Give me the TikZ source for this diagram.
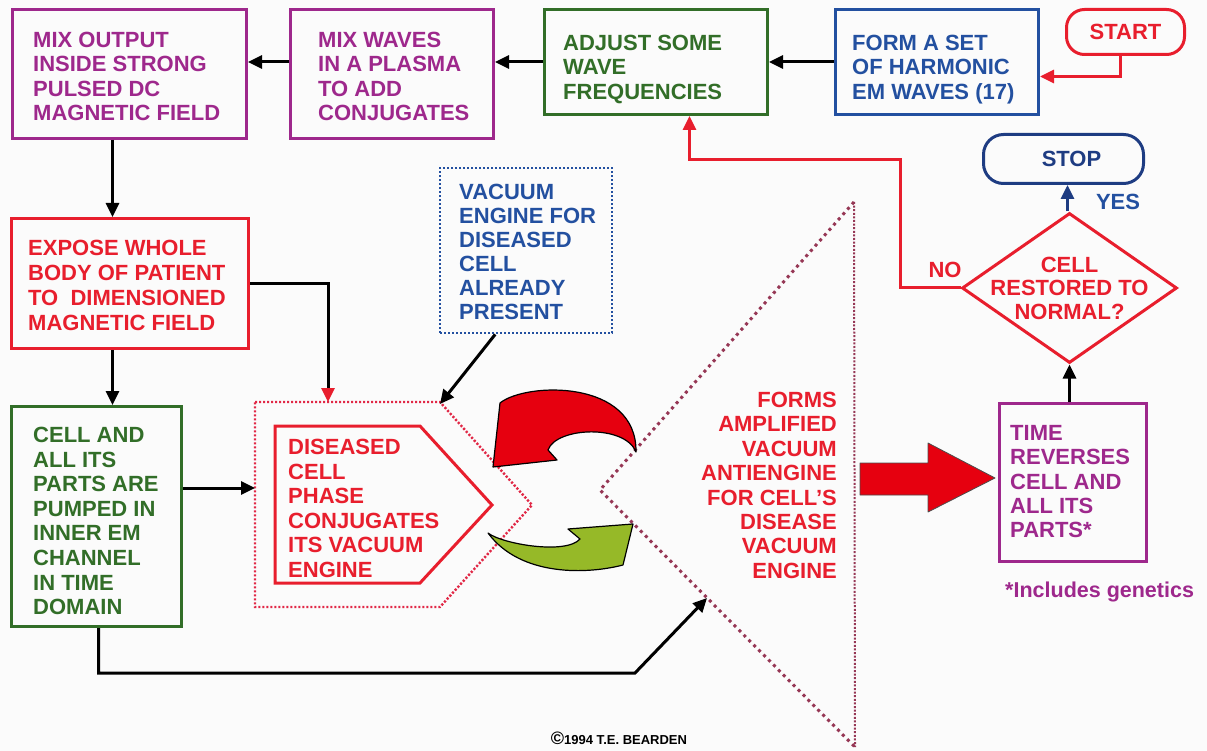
\documentclass[tikz,border=0pt]{standalone}
\usepackage{fontspec}
\setmainfont{Liberation Sans}
\usetikzlibrary{arrows.meta,shapes.geometric}
\definecolor{cpurple}{RGB}{158,40,140}
\definecolor{cgreen}{RGB}{50,110,40}
\definecolor{cblue}{RGB}{35,80,160}
\definecolor{cdblue}{RGB}{30,60,130}
\definecolor{cred}{RGB}{232,30,45}
\definecolor{cdot}{RGB}{150,55,85}
\definecolor{cpdot}{RGB}{225,40,70}
\definecolor{cfill}{RGB}{230,0,15}
\definecolor{colive}{RGB}{150,185,40}
\definecolor{bg}{RGB}{251,251,251}
\begin{document}
\begin{tikzpicture}[x=1pt,y=-1pt,
  box/.style={draw, line width=3pt, inner sep=0pt, anchor=north west},
  lbl/.style={inner sep=0pt, align=left, anchor=north west, font=\bfseries\fontsize{22}{24.4}\selectfont},
  ctr/.style={inner sep=0pt, align=center, font=\bfseries\fontsize{22}{23.5}\selectfont},
  arr/.style={line width=3pt, -{Triangle[length=14pt,width=13pt]}},
  redarr/.style={arr, draw=cred, -{Triangle[length=14pt,width=13pt,color=cred]}},
  mixarr/.style={arr, -{Triangle[length=14pt,width=13pt,color=cred]}},
  bluearr/.style={arr, draw=cdblue},
  dotline/.style={line width=2.4pt, dash pattern=on 2.2pt off 1.8pt},
  bigdot/.style={line width=3pt, dash pattern=on 3pt off 4pt, line cap=butt},
  curvy/.style={draw=black, line width=1.2pt, line join=round}]
\fill[bg] (0,0) rectangle (1207,751);
\useasboundingbox (0,0) rectangle (1207,751);

% top row boxes
\node[box, cpurple, minimum width=234pt, minimum height=129pt] (b1) at (11,8) {};
\node[box, cpurple, minimum width=203pt, minimum height=129pt] (b2) at (289,8) {};
\node[box, cgreen, minimum width=223pt, minimum height=105pt] (b3) at (543,8) {};
\node[box, cblue, minimum width=203pt, minimum height=105pt] (b4) at (834,8) {};
\node[box, draw=cred, text=cred, rounded corners=18pt, minimum width=118pt, minimum height=45pt, font=\bfseries\fontsize{22}{24}\selectfont] (st) at (1065,8) {START};
\node[box, draw=cdblue, text=cdblue, rounded corners=20pt, minimum width=160pt, minimum height=49pt, font=\bfseries\fontsize{22}{24}\selectfont] (stop) at (982,133) {\hspace*{16pt}STOP};

\node[lbl, text=cpurple] (t1) at (33,32) {MIX OUTPUT\\INSIDE STRONG\\PULSED DC\\MAGNETIC FIELD};
\node[lbl, text=cpurple] (t2) at (318,32) {MIX WAVES\\IN A PLASMA\\TO ADD\\CONJUGATES};
\node[lbl, text=cgreen] (t3) at (563,35) {ADJUST SOME\\WAVE\\FREQUENCIES};
\node[lbl, text=cblue] (t4) at (852,35) {FORM A SET\\OF HARMONIC\\EM WAVES (17)};

% diamond
\node[diamond, draw=cred, line width=3pt, inner sep=0pt, aspect=1.433, minimum width=215pt, minimum height=150pt] (dia) at (1069.5,288) {};
\node[ctr, text=cred] (tdia) at (1069.5,288) {CELL\\RESTORED TO\\NORMAL?};
\node[ctr, text=cred] (no) at (945,270) {NO};
\node[ctr, text=cblue] (yes) at (1118,202) {YES};

% left column
\node[box, draw=cred, minimum width=237pt, minimum height=130pt] (ex) at (10,217) {};
\node[lbl, text=cred, font=\bfseries\fontsize{22}{25}\selectfont] (tex) at (28,240) {EXPOSE WHOLE\\BODY OF PATIENT\\TO\ \ DIMENSIONED\\MAGNETIC FIELD};
\node[box, draw=cgreen, minimum width=170pt, minimum height=220pt] (cell) at (10,405) {};
\node[lbl, text=cgreen, font=\bfseries\fontsize{22}{24.6}\selectfont] (tcell) at (33,427) {CELL AND\\ALL ITS\\PARTS ARE\\PUMPED IN\\INNER EM\\CHANNEL\\IN TIME\\DOMAIN};

% vacuum box
\node[box, draw=cblue, dotline, minimum width=172pt, minimum height=165pt] (vac) at (439,167) {};
\node[lbl, text=cblue, font=\bfseries\fontsize{22}{24}\selectfont] (tvac) at (459,184) {VACUUM\\ENGINE FOR\\DISEASED\\CELL\\ALREADY\\PRESENT};

% diseased cell pentagons
\draw[cpdot, dotline] (255,402) -- (440,402) -- (532,505) -- (440,607) -- (255,607) -- cycle;
\draw[cred, line width=3pt, line join=miter] (275,426) -- (420,426) -- (492,505) -- (420,583) -- (275,583) -- cycle;
\node[lbl, text=cred, font=\bfseries\fontsize{22}{24.6}\selectfont] (tdis) at (288,439) {DISEASED\\CELL\\PHASE\\CONJUGATES\\ITS VACUUM\\ENGINE};
\coordinate (pentTop) at (328,402);
\coordinate (pentLeft) at (255,488);
\coordinate (pentCorner) at (440,404);

% dotted triangle
\coordinate (triTop) at (854,202);
\coordinate (triLeft) at (600,490);
\coordinate (triBot) at (855,747);
\draw[cdot, bigdot] (triTop) -- (triLeft) -- (triBot);
\draw[cdot, line width=2pt, dash pattern=on 2pt off 1.6pt] (triTop) -- (triBot);
\node[inner sep=0pt, align=right, anchor=north east, text=cred, font=\bfseries\fontsize{22}{24.4}\selectfont] (tforms) at (837,392) {FORMS\\AMPLIFIED\\VACUUM\\ANTIENGINE\\FOR CELL'S\\DISEASE\\VACUUM\\ENGINE};
\coordinate (triEdge) at (707,598);
\coordinate (cturn) at (635,673);

% curved arrows
\filldraw[curvy, fill=cfill] (636,452) .. controls (637,379) and (526,382) .. (500,403) -- (493,467) -- (557,460) -- (548,450) .. controls (556,427) and (625,424) .. cycle;
\filldraw[curvy, fill=colive] (488,533) .. controls (521,577.5) and (588.5,574) .. (623,565) -- (633,524) -- (568,529) -- (580,539) .. controls (566,555) and (502,544) .. cycle;

% big red arrow
\filldraw[curvy, fill=cfill, line width=0.8pt, draw=black!70] (860,463) -- (928,463) -- (928,443) -- (995,478) -- (928,512) -- (928,495) -- (860,495) -- cycle;

% time box
\node[box, draw=cpurple, minimum width=147pt, minimum height=158pt] (tm) at (998,402) {};
\node[lbl, text=cpurple] (ttm) at (1010,425) {TIME\\REVERSES\\CELL AND\\ALL ITS\\PARTS*};
\node[inner sep=0pt, anchor=west, text=cpurple, font=\bfseries\fontsize{21.5}{24}\selectfont] (inc) at (1005,592) {*Includes genetics};

% copyright
\node[inner sep=0pt, font=\bfseries\fontsize{13}{14}\selectfont] (cr) at (619,738) {{\fontsize{18}{18}\selectfont ©}1994 T.E. BEARDEN};

% connectors
\draw[arr] (b4.west) -- (b3.east);
\draw[arr] (b3.west) -- (b3.west -| b2.east);
\draw[arr] (b3.west -| b2.west) -- (b3.west -| b1.east);
\draw[redarr] ([xshift=-5pt]st.south) |- ([yshift=-14.5pt]b4.east);
\draw[redarr] (dia.west) -| (900,160) -| ([xshift=33.5pt]b3.south);
\draw[arr] ([xshift=-17pt]b1.south) -- ([xshift=-17pt]b1.south |- ex.north);
\draw[arr] ([xshift=-17.5pt]ex.south) -- ([xshift=-17.5pt]ex.south |- cell.north);
\draw[mixarr] (ex.east) -| (pentTop);
\draw[arr] (cell.east |- pentLeft) -- (pentLeft);
\draw[arr] ([xshift=-31pt]vac.south) -- (pentCorner);
\draw[arr] ([xshift=2pt]cell.south) |- (cturn) -- (triEdge);
\draw[arr] (dia.south |- tm.north) -- (dia.south);
\draw[bluearr] ([xshift=-2pt]dia.north) -- ([xshift=-2pt]dia.north |- stop.south);
\end{tikzpicture}
\end{document}
